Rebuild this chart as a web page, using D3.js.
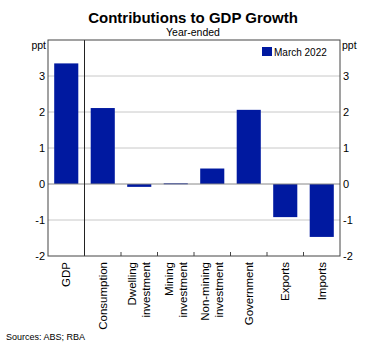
<!DOCTYPE html>
<html>
<head>
<meta charset="utf-8">
<script src="https://cdn.jsdelivr.net/npm/d3@7"></script>
<style>
  html, body { margin: 0; padding: 0; background: #fff; overflow: hidden; }
  svg { display: block; }
  text { font-family: "Liberation Sans", Arial, sans-serif; }
</style>
</head>
<body>
<div id="chart"></div>
<script>
const categories = ["GDP", "Consumption", "Dwelling investment", "Mining investment",
    "Non-mining investment", "Government", "Exports", "Imports"];
const labelLines = [["GDP"], ["Consumption"], ["Dwelling", "investment"], ["Mining", "investment"],
    ["Non-mining", "investment"], ["Government"], ["Exports"], ["Imports"]];
const values = [3.35, 2.11, -0.08, 0.02, 0.43, 2.06, -0.92, -1.47];
const yTicks = [-2, -1, 0, 1, 2, 3];
const seriesName = "March 2022";

const width = 371, height = 353;
const margin = { top: 40, right: 31, bottom: 97, left: 48 };
const innerWidth = width - margin.left - margin.right;
const innerHeight = height - margin.top - margin.bottom;
const barColor = "#0019a0";

const svg = d3.select("#chart").append("svg")
    .attr("width", width)
    .attr("height", height);

// Title
svg.append("text")
    .attr("x", 193).attr("y", 23)
    .attr("text-anchor", "middle")
    .style("font-size", "15px").style("font-weight", "bold")
    .text("Contributions to GDP Growth");
svg.append("text")
    .attr("x", 193).attr("y", 36)
    .attr("text-anchor", "middle")
    .style("font-size", "10.5px")
    .text("Year-ended");

const g = svg.append("g").attr("transform", `translate(${margin.left},${margin.top})`);

const x = d3.scaleBand().domain(categories).range([0, innerWidth]).paddingInner(0.34).paddingOuter(0.17);
const y = d3.scaleLinear().domain([-2, 4]).range([innerHeight, 0]);

// Gridlines
g.selectAll(".grid")
    .data(yTicks.filter(d => d !== 0 && d !== -2))
    .enter().append("line")
    .attr("x1", 0).attr("x2", innerWidth)
    .attr("y1", d => y(d)).attr("y2", d => y(d))
    .attr("stroke", "#c8c8c8").attr("stroke-width", 1);

// Bars
g.selectAll(".bar")
    .data(values)
    .enter().append("rect")
    .attr("x", (d, i) => x(categories[i]))
    .attr("y", d => y(Math.max(0, d)))
    .attr("width", x.bandwidth())
    .attr("height", d => Math.max(1, Math.abs(y(d) - y(0))))
    .attr("fill", barColor);

// Zero line
g.append("line")
    .attr("x1", 0).attr("x2", innerWidth)
    .attr("y1", y(0)).attr("y2", y(0))
    .attr("stroke", "#888").attr("stroke-width", 1);

// GDP divider
const step = x.step();
g.append("line")
    .attr("x1", step).attr("x2", step)
    .attr("y1", 0).attr("y2", innerHeight)
    .attr("stroke", "#222").attr("stroke-width", 1);

// Bottom tick marks (inward) at category boundaries
g.selectAll(".xtick")
    .data(d3.range(2, categories.length))
    .enter().append("line")
    .attr("x1", d => d * step).attr("x2", d => d * step)
    .attr("y1", innerHeight).attr("y2", innerHeight - 4)
    .attr("stroke", "#444");

// Frame
g.append("rect")
    .attr("width", innerWidth).attr("height", innerHeight)
    .attr("fill", "none").attr("stroke", "#444").attr("stroke-width", 1);

// Y axes
const fmt = d => String(d);
const axisLeft = d3.axisLeft(y).tickValues(yTicks).tickFormat(fmt).tickSize(0).tickPadding(3);
const axisRight = d3.axisRight(y).tickValues(yTicks).tickFormat(fmt).tickSize(0).tickPadding(3);
g.append("g").call(axisLeft)
    .call(s => s.select(".domain").remove())
    .selectAll("text").style("font-size", "11px").attr("fill", "#000");
g.append("g").attr("transform", `translate(${innerWidth},0)`).call(axisRight)
    .call(s => s.select(".domain").remove())
    .selectAll("text").style("font-size", "11px").attr("fill", "#000");

// ppt units
svg.append("text").attr("x", margin.left - 2).attr("y", margin.top + 9)
    .attr("text-anchor", "end").style("font-size", "10.5px").text("ppt");
svg.append("text").attr("x", margin.left + innerWidth + 2).attr("y", margin.top + 9)
    .attr("text-anchor", "start").style("font-size", "10.5px").text("ppt");

// Legend
g.append("rect").attr("x", 214).attr("y", 7).attr("width", 10).attr("height", 9).attr("fill", barColor);
g.append("text").attr("x", 226).attr("y", 15.5).style("font-size", "10px").text(seriesName);

// X labels, rotated, one text per line
const lh = 14;
categories.forEach((c, i) => {
    const lines = labelLines[i];
    const cx = x(c) + x.bandwidth() / 2;
    lines.forEach((ln, j) => {
        const dx = -(lines.length - 1) * lh / 2 + j * lh + 4;
        g.append("text")
            .attr("transform", `translate(${cx + dx},${innerHeight + 6}) rotate(-90)`)
            .attr("text-anchor", "end")
            .style("font-size", "11.5px")
            .text(ln);
    });
});

// Source
svg.append("text").attr("x", 6).attr("y", 340)
    .style("font-size", "9px").text("Sources: ABS; RBA");
</script>
</body>
</html>
